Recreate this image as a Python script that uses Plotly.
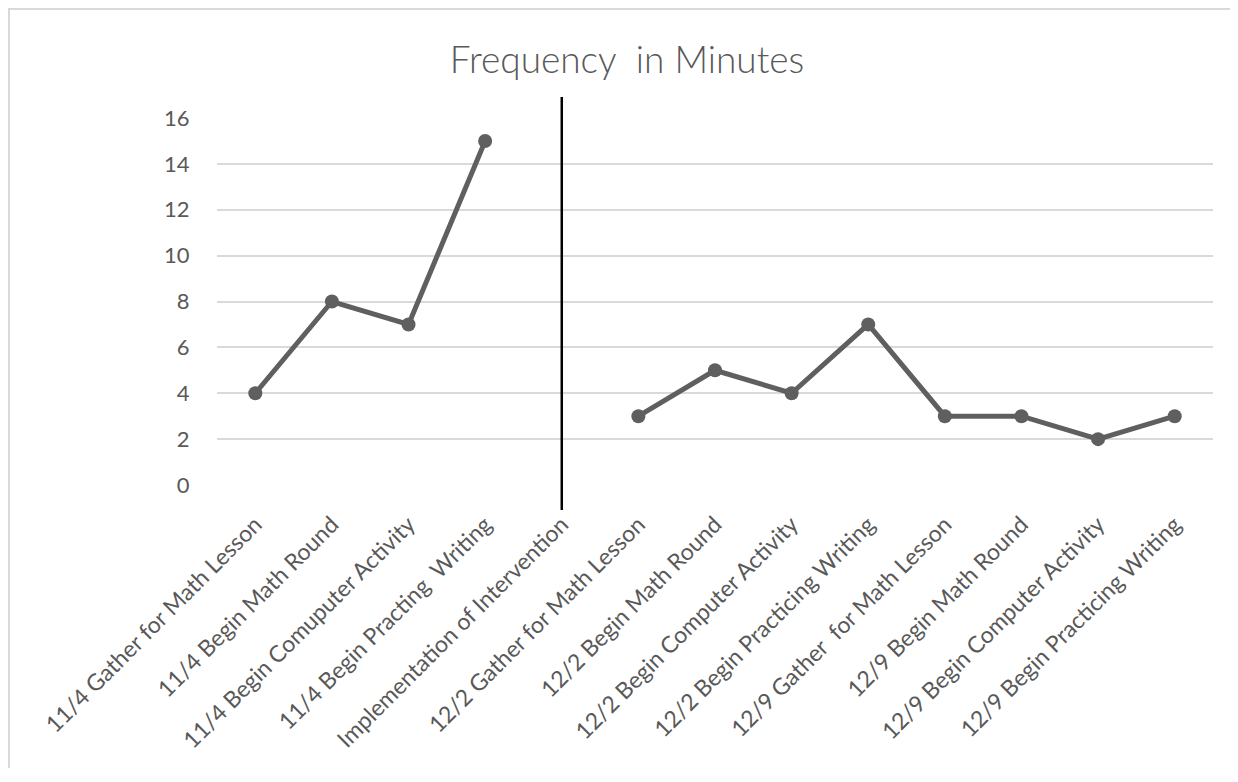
import plotly.graph_objects as go

categories = [
    "11/4 Gather for Math Lesson",
    "11/4 Begin Math Round",
    "11/4 Begin Comuputer Activity",
    "11/4 Begin Practing  Writing",
    "Implementation of Intervention",
    "12/2 Gather for Math Lesson",
    "12/2 Begin Math Round",
    "12/2 Begin Computer Activity",
    "12/2 Begin Practicing Writing",
    "12/9 Gather  for Math Lesson",
    "12/9 Begin Math Round",
    "12/9 Begin Computer Activity",
    "12/9 Begin Practicing Writing",
]
minutes = [4, 8, 7, 15, None, 3, 5, 4, 7, 3, 3, 2, 3]
y_ticks = [0, 2, 4, 6, 8, 10, 12, 14, 16]
divider_category = categories[4]

# page has an 8px body margin; keep the figure inside the window (no scrollbars)
W, H = 1222, 760
L, R, T, B = 209, 17, 110, 283
plot_w = W - L - R
plot_h = H - T - B

fig = go.Figure()
fig.add_trace(go.Scatter(
    x=categories, y=minutes, mode="lines+markers",
    line=dict(color="#5f5f5f", width=5),
    marker=dict(color="#5f5f5f", size=14),
    connectgaps=False, showlegend=False,
))

# intervention divider
fig.add_shape(type="line", xref="x", yref="paper",
              x0=divider_category, x1=divider_category,
              y0=-25 / plot_h, y1=(plot_h + 21) / plot_h,
              line=dict(color="black", width=2.5))
# chart border (top and left edges)
fig.add_shape(type="line", xref="paper", yref="paper",
              x0=-L / plot_w, x1=(W - L + 20) / plot_w,
              y0=(H - B - 1) / plot_h, y1=(H - B - 1) / plot_h,
              line=dict(color="#d9d9d9", width=2))
fig.add_shape(type="line", xref="paper", yref="paper",
              x0=-(L - 1) / plot_w, x1=-(L - 1) / plot_w,
              y0=-(B + 30) / plot_h, y1=(H - B) / plot_h,
              line=dict(color="#d9d9d9", width=2))

fig.update_layout(
    width=W, height=H,
    margin=dict(l=L, r=R, t=T, b=B),
    paper_bgcolor="white", plot_bgcolor="white",
    title=dict(text="Frequency  in Minutes", x=(627 - 8) / W, xref="container",
               xanchor="center", y=1 - 52 / H, yanchor="middle",
               font=dict(family="Lato", size=37, weight=300, color="#595959")),
    font=dict(family="Lato", color="#595959"),
    xaxis=dict(type="category", tickangle=-45, showgrid=False, showline=False,
               ticks="outside", ticklen=16, tickcolor="rgba(0,0,0,0)",
               tickfont=dict(size=23, color="#595959"),
               range=[-0.5, len(categories) - 0.5]),
    yaxis=dict(range=[0, 16], tickvals=y_ticks, showgrid=True, gridcolor="#d9d9d9",
               gridwidth=2, zeroline=False, showline=False, ticks="outside",
               ticklen=22, tickcolor="rgba(0,0,0,0)",
               tickfont=dict(size=22, color="#595959")),
)

fig.write_html("out.html")
